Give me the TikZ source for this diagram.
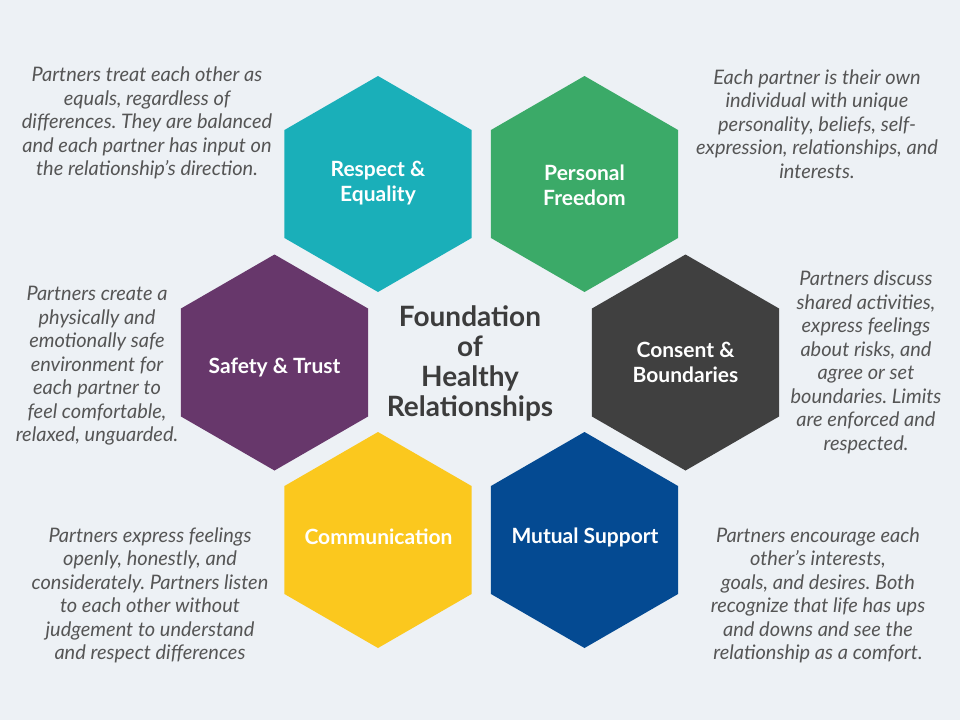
\documentclass[tikz,border=0pt]{standalone}
\usepackage{fontspec}
\setmainfont{Lato}
\frenchspacing
\definecolor{bg}{HTML}{EDF1F5}
\definecolor{cteal}{HTML}{1AAFB9}
\definecolor{cgreen}{HTML}{3BAA68}
\definecolor{cpurple}{HTML}{67376B}
\definecolor{cdark}{HTML}{404040}
\definecolor{cyellow}{HTML}{FBC81E}
\definecolor{cblue}{HTML}{044A92}
\definecolor{desc}{HTML}{555555}
\definecolor{titlec}{HTML}{3C3C3C}
\newcommand{\hexshape}[3]{%
  \fill[#3,shift={(#1,#2)}] (90:108) -- (150:108) -- (210:108) -- (270:108) -- (330:108) -- (30:108) -- cycle;}
\tikzset{
  hexlabel/.style={text=white,align=center,font=\fontsize{21}{25}\selectfont\bfseries,inner sep=0pt},
  desctext/.style={text=desc,align=center,font=\fontsize{20}{23.5}\selectfont\itshape,inner sep=0pt},
  titletext/.style={text=titlec,align=center,font=\fontsize{28}{30}\selectfont\bfseries,inner sep=0pt}
}
\begin{document}
\begin{tikzpicture}[x=1pt,y=-1pt]
\fill[bg] (0,0) rectangle (960,720);
\useasboundingbox (0,0) rectangle (960,720);
% hexagons
\hexshape{378}{184}{cteal}
\hexshape{584.5}{184}{cgreen}
\hexshape{274.5}{362.5}{cpurple}
\hexshape{685.5}{362.5}{cdark}
\hexshape{378}{540}{cyellow}
\hexshape{584.5}{540}{cblue}
% labels
\node[hexlabel] (re) at (378,183) {Respect \&\\Equality};
\node[hexlabel] (pf) at (584.5,185) {Personal\\Freedom};
\node[hexlabel] (st) at (274.5,368) {Safety \& Trust};
\node[hexlabel] (cb) at (685.5,362) {Consent \&\\Boundaries};
\node[hexlabel] (cm) at (378.5,537) {Communication};
\node[hexlabel] (ms) at (585,537) {Mutual Support};
\node[titletext] (title) at (470,363) {Foundation\\of\\Healthy\\Relationships};
% descriptions
\node[desctext] (d1) at (147,123) {Partners treat each other as\\equals, regardless of\\differences. They are balanced\\and each partner has input on\\the relationship’s direction.};
\node[desctext] (d2) at (817,124) {Each partner is their own\\individual with unique\\personality, beliefs, self-\\expression, relationships, and\\interests.};
\node[desctext] (d3) at (97,366) {Partners create a\\physically and\\emotionally safe\\environment for\\each partner to\\ feel comfortable,\\relaxed, unguarded.};
\node[desctext] (d4) at (866,362.5) {Partners discuss\\shared activities,\\express feelings\\ about risks, and\\agree or set\\boundaries. Limits\\are enforced and\\respected.};
\node[desctext] (d5) at (150,595.5) {Partners express feelings\\openly, honestly, and\\considerately. Partners listen\\to each other without\\judgement to understand\\and respect differences};
\node[desctext] (d6) at (818,595.5) {Partners encourage each\\other’s interests,\\goals, and desires. Both\\recognize that life has ups\\and downs and see the\\relationship as a comfort.};
\end{tikzpicture}
\end{document}
